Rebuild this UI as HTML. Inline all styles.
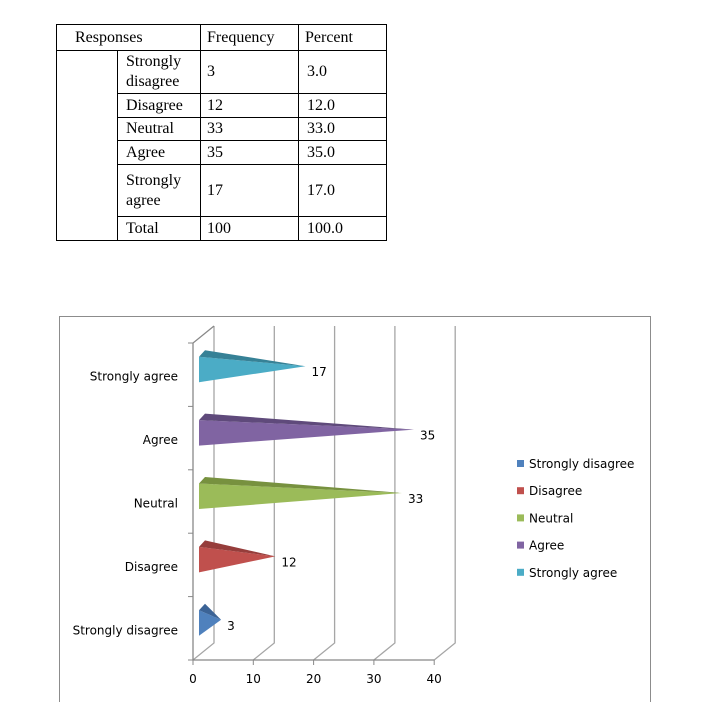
<!DOCTYPE html>
<html><head><meta charset="utf-8"><style>
body{margin:0;background:#fff;width:712px;height:702px;overflow:hidden;position:relative;font-family:"Liberation Serif",serif}
table{position:absolute;left:56px;top:24px;border-collapse:collapse;font-size:16px;color:#000}
td{border:1px solid #000;padding:0 0 0 6px;vertical-align:middle;line-height:20px}
.c{padding-left:8px}
</style></head><body>
<table>
<tr style="height:26px"><td colspan="2" style="padding-left:18px">Responses</td><td>Frequency</td><td>Percent</td></tr>
<tr style="height:43px"><td rowspan="6" style="width:54px"></td><td style="width:74px;padding-left:8px">Strongly disagree</td><td style="width:91px">3</td><td style="width:79px;padding-left:8px">3.0</td></tr>
<tr style="height:24px"><td class="c">Disagree</td><td>12</td><td class="c">12.0</td></tr>
<tr style="height:23px"><td class="c">Neutral</td><td>33</td><td class="c">33.0</td></tr>
<tr style="height:24px"><td class="c">Agree</td><td>35</td><td class="c">35.0</td></tr>
<tr style="height:52px"><td class="c">Strongly agree</td><td>17</td><td class="c">17.0</td></tr>
<tr style="height:24px"><td class="c">Total</td><td>100</td><td class="c">100.0</td></tr>
</table>
<svg id="chart" width="712" height="702" style="position:absolute;left:0;top:0" font-family="DejaVu Sans, Liberation Sans, sans-serif" font-size="12">
<rect x="59.5" y="316.5" width="591" height="400" fill="none" stroke="#8c8c8c"/>
</svg>
<script>
const categories=["Strongly disagree","Disagree","Neutral","Agree","Strongly agree"];
const values=[3,12,33,35,17];
const xTicks=[0,10,20,30,40];
const colors=["#4f81bd","#c0504d","#9bbb59","#8064a2","#4bacc6"];
const darks=["#3b6396","#963d3b","#77913f","#5f4a7b","#368196"];
const svg=document.getElementById('chart');
const NS='http://www.w3.org/2000/svg';
const X0=193,XS=6.03,YB=660,BAND=63.4,DX=21,DY=-17;
const x=v=>X0+v*XS;
const yc=i=>YB-BAND*(i+0.5);
function mk(t,a){const e=document.createElementNS(NS,t);for(const k in a)e.setAttribute(k,a[k]);svg.appendChild(e);return e;}
const top0=YB-BAND*5;
xTicks.forEach(t=>{
 const g=mk('polyline',{points:`${x(t)},${YB} ${x(t)+DX},${YB+DY} ${x(t)+DX},${top0+DY}`,fill:'none',stroke:'#a6a6a6','stroke-width':1.3});
 
 const l=mk('text',{x:x(t),y:YB+23,'text-anchor':'middle',fill:'#000'});l.textContent=t;
 
 const tk=mk('line',{x1:x(t),y1:YB,x2:x(t),y2:YB+5,stroke:'#888'});
 
});
const ax=mk('polyline',{points:`${X0+DX},${top0+DY} ${X0},${top0} ${X0},${YB} ${x(40)},${YB}`,fill:'none',stroke:'#888','stroke-width':1.3});

for(let i=0;i<=5;i++){const tk=mk('line',{x1:X0-5,y1:YB-BAND*i,x2:X0,y2:YB-BAND*i,stroke:'#888'});}
categories.forEach((c,i)=>{
 const cy=yc(i),xs=X0+6,tip=x(values[i])+10,ty=cy-8.5;
 const f=mk('polygon',{points:`${xs},${cy-18} ${xs},${cy+7.5} ${tip},${ty}`,fill:colors[i]});
 
 const tf=mk('polygon',{points:`${xs},${cy-18} ${xs+6},${cy-24.5} ${tip},${ty}`,fill:darks[i]});
 
 const v=mk('text',{x:tip+6,y:ty+10,fill:'#000'});v.textContent=values[i];
 
 const cl=mk('text',{x:178,y:cy+6,'text-anchor':'end',fill:'#000'});cl.textContent=c;
 
 const ly=464+27.2*i;
 const sw=mk('rect',{x:517,y:ly-4,width:7,height:7,fill:colors[i]});
 
 const lt=mk('text',{x:529,y:ly+4,fill:'#000'});lt.textContent=c;
 
});
</script>
</body></html>
